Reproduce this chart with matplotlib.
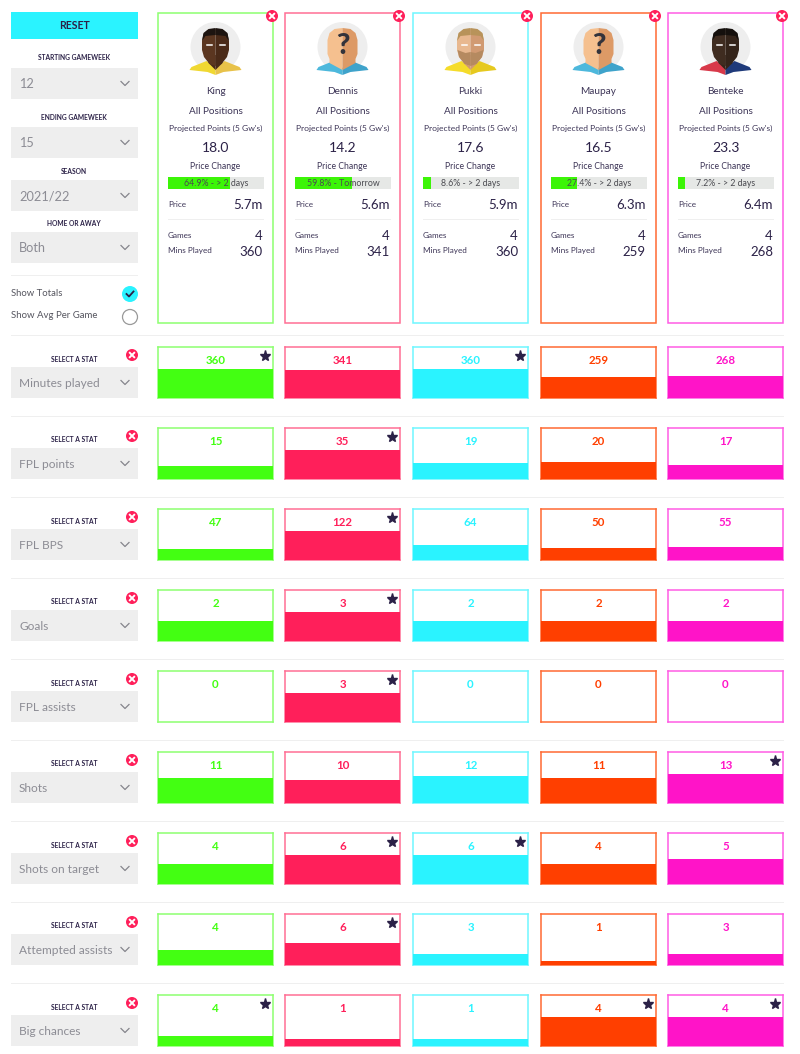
import matplotlib
matplotlib.use('Agg')
import matplotlib.pyplot as plt
from matplotlib.patches import Circle, Polygon, Rectangle

plt.rcParams['font.family'] = ['Lato', 'DejaVu Sans']

W, H = 800, 1054
DARK = '#2b2147'
BODY = '#3d3557'
GREY_TXT = '#8c8c94'
PANEL = '#eeeeee'
RULE = '#efefef'
X_RED = '#ff1f5a'

players = ['King', 'Dennis', 'Pukki', 'Maupay', 'Benteke']
colors = ['#43ff12', '#ff1f5a', '#2af3ff', '#ff3f00', '#ff14c8']
borders = ['#8dff70', '#ff6f95', '#6ff7ff', '#ff6a33', '#ff5ce4']
projected = ['18.0', '14.2', '17.6', '16.5', '23.3']
change_pct = [64.9, 59.8, 8.6, 27.4, 7.2]
change_when = ['> 2 days', 'Tomorrow', '> 2 days', '> 2 days', '> 2 days']
prices = ['5.7m', '5.6m', '5.9m', '6.3m', '6.4m']
games = [4, 4, 4, 4, 4]
mins_played = [360, 341, 360, 259, 268]

stat_names = ['Minutes played', 'FPL points', 'FPL BPS', 'Goals', 'FPL assists',
              'Shots', 'Shots on target', 'Attempted assists', 'Big chances']
stat_values = [
    [360, 341, 360, 259, 268],
    [15, 35, 19, 20, 17],
    [47, 122, 64, 50, 55],
    [2, 3, 2, 2, 2],
    [0, 3, 0, 0, 0],
    [11, 10, 12, 11, 13],
    [4, 6, 6, 4, 5],
    [4, 6, 3, 1, 3],
    [4, 1, 1, 4, 4],
]
# value at which a bar reaches its usual full height, per row
row_full = [360, 35, 122, 3, 3, 13, 6, 8, 4]
# the picture draws King's big chances bar much shorter than its label
bar_overrides = {(8, 0): 1.4}

filters = [('STARTING GAMEWEEK', '12', 58, 68), ('ENDING GAMEWEEK', '15', 118, 127),
           ('SEASON', '2021/22', 171, 180), ('HOME OR AWAY', 'Both', 223, 232)]

card_left = [158, 285, 413, 541, 668]
card_w = 115
row_top = [347, 428, 509, 590, 671, 752, 833, 914, 995]
row_h = 51

fig = plt.figure(figsize=(W / 100, H / 100), dpi=100, facecolor='white')
bg = fig.add_axes([0, 0, 1, 1])
bg.set_xlim(0, W)
bg.set_ylim(H, 0)
bg.axis('off')


def px_axes(x, y, w, h):
    return fig.add_axes([x / W, 1 - (y + h) / H, w / W, h / H])


def rect(x, y, w, h, color, z=1):
    bg.add_patch(Rectangle((x, y), w, h, fc=color, ec='none', zorder=z))


def chevron(x, y):
    bg.plot([x - 4, x, x + 4], [y - 2, y + 2, y - 2], color='#85858c', lw=0.9, zorder=3)


def dropdown(y, label, size, h=31):
    rect(11, y, 127, h, PANEL)
    bg.text(19, y + h / 2 + 0.7, label, fontsize=size, color=GREY_TXT, va='center', ha='left')
    chevron(125, y + h / 2)


def close_btn(x, y):
    bg.add_patch(Circle((x, y), 6, fc=X_RED, ec='none', zorder=6))
    bg.plot([x - 2.2, x + 2.2], [y - 2.2, y + 2.2], color='white', lw=1.4, zorder=7)
    bg.plot([x - 2.2, x + 2.2], [y + 2.2, y - 2.2], color='white', lw=1.4, zorder=7)


def small_label(x, y, s):
    bg.text(x, y, s, fontsize=4.8, color=DARK, ha='center', va='center', fontweight='bold')


def mirrored(cx, pts, left, right, z):
    bg.add_patch(Polygon([(cx + dx, y) for dx, y in pts], fc=left, ec='none', zorder=z))
    bg.add_patch(Polygon([(cx - dx, y) for dx, y in pts], fc=right, ec='none', zorder=z))


SHIRT = [(-26, 70), (-24, 67), (-9, 61), (0, 68), (0, 75), (-8, 72)]
REAL_HEAD = [(0, 29), (-8, 30), (-12, 34), (-13.5, 41), (-13.5, 50), (-11.5, 57), (-6, 64), (0, 66)]
NECK = [(-7, 55), (-7, 63), (0, 70), (0, 55)]
BALD_HEAD = [(0, 28), (-8, 29), (-13, 33), (-15, 40), (-15, 54), (-13, 59), (-13, 63), (0, 70)]
HAIR = [(-13.5, 41), (-12, 33), (-7, 29), (0, 28), (0, 35), (-10, 36)]
BEARD = [(-13, 50), (-5, 53), (0, 52), (0, 66), (-6, 64), (-11.5, 57)]

looks = [
    ('#5b3620', '#4a2a18', '#f0d832', '#e8c24a', '#1d1410', None),
    ('#f5c08f', '#dd9a66', '#4db8dc', '#3fa3cb', None, None),
    ('#e8b88f', '#d19a72', '#f5dc2a', '#e6c91f', '#b8935a', '#b58a60'),
    ('#f5c08f', '#dd9a66', '#4db8dc', '#3fa3cb', None, None),
    ('#3f2c20', '#34241a', '#d8394a', '#1f3a7a', '#15100d', None),
]


def avatar(cx, i):
    skin_l, skin_r, shirt_l, shirt_r, hair, beard = looks[i]
    bg.add_patch(Circle((cx, 47), 25, fc='#eeeeee', ec='none', zorder=2))
    mirrored(cx, SHIRT, shirt_l, shirt_r, 3)
    if hair is None:
        mirrored(cx, BALD_HEAD, skin_l, skin_r, 4)
        bg.text(cx, 46.5, '?', fontsize=21, color='#33333b', fontweight='black', ha='center', va='center', zorder=5)
        return
    mirrored(cx, NECK, skin_r, skin_r, 4)
    mirrored(cx, REAL_HEAD, skin_l, skin_r, 4)
    mirrored(cx, HAIR, hair, hair, 5)
    if beard:
        mirrored(cx, BEARD, beard, beard, 5)
    bg.plot([cx - 9, cx - 4], [45, 45], color='white', lw=1.1, zorder=6)
    bg.plot([cx + 4, cx + 9], [45, 45], color='white', lw=1.1, zorder=6)


# left panel
rect(11, 12, 127, 27, '#2af3ff')
bg.text(74.5, 25.5, 'RESET', fontsize=7.6, color=DARK, ha='center', va='center', fontweight='bold')
for label, value, ly, dy in filters:
    small_label(74, ly, label)
    dropdown(dy, value, 9.2)
rect(11, 275, 127, 1, RULE)
bg.text(11, 293, 'Show Totals', fontsize=6.8, color='#55555f', va='center')
bg.text(11, 316, 'Show Avg Per Game', fontsize=6.9, color='#55555f', va='center')
bg.add_patch(Circle((130, 294), 8, fc='#2af3ff', ec='none', zorder=3))
bg.plot([126.5, 129, 133.5], [294, 296.5, 291.5], color=DARK, lw=1.3, zorder=4)
bg.add_patch(Circle((130, 317), 7.5, fc='white', ec='#9a9a9a', lw=0.9, zorder=3))
rect(11, 335, 773, 1, RULE)

# player cards
for i, name in enumerate(players):
    x0 = card_left[i]
    cx = x0 + card_w / 2
    bg.add_patch(Rectangle((x0, 13), card_w, 310, fc='none', ec=borders[i], lw=1.1, zorder=2))
    close_btn(x0 + 114, 16)
    avatar(cx, i)
    bg.text(cx, 91, name, fontsize=7.2, color=BODY, ha='center', va='center')
    bg.text(cx, 111, 'All Positions', fontsize=7.2, color=BODY, ha='center', va='center')
    bg.text(cx, 128.5, "Projected Points (5 Gw's)", fontsize=6.1, color=BODY, ha='center', va='center')
    bg.text(cx, 148, projected[i], fontsize=10, color=DARK, ha='center', va='center')
    bg.text(cx, 166.5, 'Price Change', fontsize=6.2, color=BODY, ha='center', va='center')

    pc = px_axes(x0 + 10, 177, 96, 12)
    pc.barh([0], [change_pct[i]], height=1, color='#3cf507', zorder=2)
    pc.set_xlim(0, 100)
    pc.set_ylim(-0.5, 0.5)
    pc.set_facecolor('#e6e8e6')
    pc.set_xticks([])
    pc.set_yticks([])
    for s in pc.spines.values():
        s.set_visible(False)
    pc.text(50, -0.05, f'{change_pct[i]}% - {change_when[i]}', fontsize=6.3, color='#4a4a50',
            ha='center', va='center', zorder=3)

    bg.text(x0 + 10, 204.5, 'Price', fontsize=5.9, color=BODY, va='center')
    bg.text(x0 + 105, 205, prices[i], fontsize=9.5, color=DARK, va='center', ha='right')
    rect(x0 + 10, 219, 96, 1, RULE)
    bg.text(x0 + 10, 235.5, 'Games', fontsize=5.9, color=BODY, va='center')
    bg.text(x0 + 105, 236, str(games[i]), fontsize=9.5, color=DARK, va='center', ha='right')
    bg.text(x0 + 10, 251, 'Mins Played', fontsize=5.9, color=BODY, va='center')
    bg.text(x0 + 105, 251.5, str(mins_played[i]), fontsize=9.5, color=DARK, va='center', ha='right')

# stat rows
for r, stat in enumerate(stat_names):
    top = row_top[r]
    vals = stat_values[r]
    best = max(vals)
    small_label(74, top + 12, 'SELECT A STAT')
    close_btn(132, top + 8)
    dropdown(top + 20, stat, 8.6)
    rect(11, top + 69, 773, 1, RULE)
    for i, v in enumerate(vals):
        ax = px_axes(card_left[i], top, card_w, row_h)
        ax.bar([0], [bar_overrides.get((r, i), v)], width=1, color=colors[i], zorder=3)
        ax.set_xlim(-0.5, 0.5)
        ax.set_ylim(0, row_full[r] * row_h / 29.5)
        ax.set_xticks([])
        ax.set_yticks([])
        for s in ax.spines.values():
            s.set_edgecolor(borders[i])
            s.set_linewidth(1.1)
            s.set_zorder(2)
        ax.text(0.5, 0.74, str(v), transform=ax.transAxes, fontsize=8.3, color=colors[i],
                ha='center', va='center', fontweight='bold')
        if v == best:
            ax.plot([0.93], [0.82], marker='*', ms=8, color=DARK, transform=ax.transAxes, clip_on=False)

fig.savefig('out.png', dpi=100)
